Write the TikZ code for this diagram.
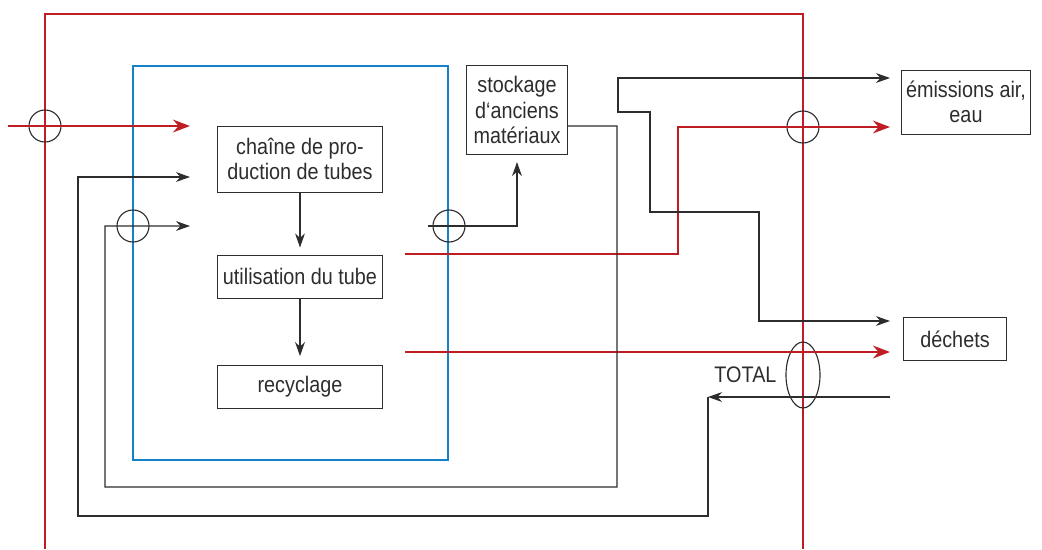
\documentclass[tikz,border=0pt]{standalone}
\usepackage{fontspec}
\setmainfont{Liberation Sans}[FakeStretch=0.88]
\usetikzlibrary{positioning}
\usetikzlibrary{arrows.meta}
\usetikzlibrary{shapes.geometric}
\definecolor{flowred}{RGB}{190,30,35}
\definecolor{sysblue}{RGB}{20,130,200}
\definecolor{linegray}{RGB}{45,45,45}
\tikzset{
  box/.style={draw=linegray, text=linegray, line width=0.7pt, align=center, inner sep=2pt, font=\fontsize{16}{18}\selectfont},
  flow/.style={draw=flowred, line width=2pt, -{Stealth[length=12pt,width=9pt]}},
  link/.style={draw=linegray, line width=0.8pt, -{Stealth[length=10pt,width=7pt]}},
  twoway/.style={link, {Stealth[length=10pt,width=7pt]}-{Stealth[length=10pt,width=7pt]}},
  cross/.style={draw=linegray, line width=0.8pt, circle, minimum size=0.8cm, inner sep=0pt},
}

\begin{document}
\begin{tikzpicture}[x=0.025cm, y=-0.025cm]
    \useasboundingbox (0,0) rectangle (1042,549);

    % Frames
    \draw[flowred, line width=1.8pt] (45,549) -- (45,14) -- (803,14) -- (803,549);
    \draw[sysblue, line width=1.8pt] (133,66) rectangle (448,460);

    % Boxes
    \node[box, minimum width=4.1cm, minimum height=1.65cm] (prod) at (300,159) {chaîne de pro-\\duction de tubes};
    \node[box, minimum width=4.1cm, minimum height=1.075cm, below=1.55cm of prod] (use) {utilisation du tube};
    \node[box, minimum width=4.1cm, minimum height=1.075cm, below=1.65cm of use] (recy) {recyclage};
    \node[box, minimum width=2.525cm, minimum height=2.225cm] (stock) at (517,110) {stockage\\d‘anciens\\matériaux};
    \node[box, minimum width=3.2cm, minimum height=1.6cm] (emis) at (966,102) {émissions air,\\eau};
    \node[box, minimum width=2.575cm, minimum height=1.075cm] (waste) at (955,339) {déchets};

    % Balance points
    \node[cross] (c1) at (45,126) {};
    \node[cross] (c2) at (133,226) {};
    \node[cross] (c3) at (449,226) {};
    \node[cross] (c4) at (803,127) {};
    \node[draw=linegray, line width=0.8pt, ellipse, minimum width=0.85cm, minimum height=1.65cm, inner sep=0pt] (tot) at (803,375) {};
    \node[left=0.1cm of tot, text=linegray, font=\fontsize{16}{18}\selectfont] (totlbl) {TOTAL};

    % Free ends
    \coordinate (rin) at (8,126);
    \coordinate (rtip) at (190,126);
    \coordinate (uout) at (405,254);
    \coordinate (etip) at (890,127);
    \coordinate (rout) at (405,352);
    \coordinate (wtip) at (890,352);
    \coordinate (c3in) at (428,226);
    \coordinate (c2tip) at (190,226);
    \coordinate (c1tip) at (190,177);
    \coordinate (etop) at (890,78);
    \coordinate (wtop) at (890,321);
    \coordinate (retin) at (890,397);
    \coordinate (retend) at (708,397);

    % Red flows
    \draw[flow] (rin) -- (rtip);
    \draw[flow] (uout) -- (678,254) -- (678,127) -- (etip);
    \draw[flow] (rout) -- (wtip);

    % Black flows
    \draw[link, shorten >=5pt] (prod) -- (use);
    \draw[link, shorten >=6pt] (use) -- (recy);
    \draw[link, shorten >=5pt] (c3in) -| (stock.south);
    \draw[link] ([yshift=-0.4cm]stock.east) -- (617,126) -- (617,487) -- (105,487) -- (105,226) -- (c2tip);
    \draw[twoway] (etop) -- (618,78) -- (618,112) -- (650,112) -- (650,212) -- (759,212) -- (759,321) -- (wtop);
    \draw[link] (retin) -- (retend);
    \draw[link] (retend) -- (708,516) -- (78,516) -- (78,177) -- (c1tip);
\end{tikzpicture}
\end{document}
